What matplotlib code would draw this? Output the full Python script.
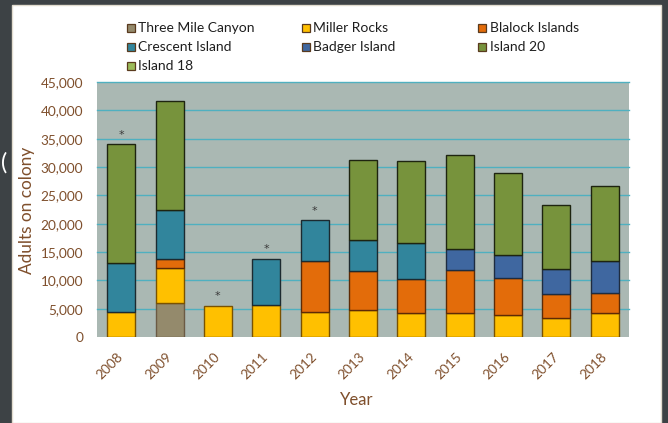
"""Stacked bar chart: adults on colony by year and colony site."""

import matplotlib

matplotlib.use("Agg")
import matplotlib.pyplot as plt
from matplotlib.patches import Rectangle
import numpy as np

plt.rcParams["font.family"] = ["Lato", "DejaVu Sans"]

# --- data --------------------------------------------------------------------
years = ["2008", "2009", "2010", "2011", "2012", "2013",
         "2014", "2015", "2016", "2017", "2018"]
three_mile_canyon = [0, 6000, 0, 0, 0, 0, 0, 0, 0, 0, 0]
miller_rocks = [4400, 6100, 5500, 5600, 4500, 4700, 4200, 4300, 3800, 3400, 4200]
blalock_islands = [0, 1600, 0, 0, 9000, 6900, 6000, 7500, 6550, 4150, 3500]
crescent_island = [8600, 8650, 0, 8200, 7100, 5600, 6350, 0, 0, 0, 0]
badger_island = [0, 0, 0, 0, 0, 0, 0, 3800, 4050, 4500, 5800]
island_20 = [21000, 19350, 0, 0, 0, 14100, 14500, 16600, 14600, 11250, 13200]
island_18 = [0, 0, 0, 0, 0, 0, 0, 0, 0, 0, 0]
flagged = [True, False, True, True, True, False, False, False, False, False, False]

series_names = ["Three Mile Canyon", "Miller Rocks", "Blalock Islands",
                "Crescent Island", "Badger Island", "Island 20", "Island 18"]
series_values = [three_mile_canyon, miller_rocks, blalock_islands,
                 crescent_island, badger_island, island_20, island_18]
y_ticks = [0, 5000, 10000, 15000, 20000, 25000, 30000, 35000, 40000, 45000]

# --- styling -----------------------------------------------------------------
FILL = ["#948a6c", "#ffc000", "#e36c0a", "#31859c", "#3f67a0", "#77933c", "#9bbb59"]
EDGE = ["#6b5a44", "#7a5200", "#5e2a05", "#1c2a30", "#1e2c40", "#1e2410", "#4a5a20"]
BROWN = "#7f4f2c"
SLIDE = "#3d4245"
PLOT_BG = "#aab8b3"
GRID = "#4fb0c0"

W, H = 668, 423
fig = plt.figure(figsize=(W / 100, H / 100), dpi=100, facecolor=SLIDE)


def fx(px):
    return px / W


def fy(py):
    return 1 - py / H


# white chart panel on the dark slide
fig.patches.append(Rectangle((fx(12), 0), fx(661 - 12), 1 - 5 / H,
                             transform=fig.transFigure, facecolor="white",
                             edgecolor="#e2dccf", lw=1.0, zorder=-5))
fig.text(fx(1), fy(163), "(", color="white", fontsize=17, ha="left", va="center")

ax = fig.add_axes([fx(97), 86 / H, fx(532), 255 / H])
ax.set_zorder(1)
ax.set_facecolor(PLOT_BG)
for s in ax.spines.values():
    s.set_visible(False)

x = np.arange(len(years))
for t in y_ticks[1:]:
    ax.axhline(t, color=GRID, lw=1.0, zorder=0.5, clip_on=False)

bottom = np.zeros(len(years))
for vals, fc, ec in zip(series_values, FILL, EDGE):
    v = np.array(vals, dtype=float)
    lw = np.where(v > 0, 1.0, 0.0)
    ax.bar(x, v, width=0.58, bottom=bottom, color=fc, edgecolor=ec,
           linewidth=lw, zorder=2)
    bottom += v

# asterisks over the flagged years
for i, flag in enumerate(flagged):
    if flag:
        ax.annotate("*", (x[i], bottom[i]), xytext=(0, 7),
                    textcoords="offset points", ha="center", va="center",
                    fontsize=8, color="#3a3a3a", family="DejaVu Sans")

ax.set_xlim(-0.5, len(years) - 0.5)
ax.set_ylim(0, 45000)
ax.set_yticks(y_ticks, [f"{t:,}" for t in y_ticks])
ax.set_xticks(x, years, rotation=45, ha="right", va="center",
              rotation_mode="anchor")
ax.tick_params(axis="y", length=0, pad=10, labelsize=9.8, labelcolor=BROWN)
ax.tick_params(axis="x", length=0, pad=13, labelsize=9.8, labelcolor=BROWN)

fig.text(fx(357), fy(400), "Year", ha="center", va="center",
         fontsize=12, color=BROWN)
fig.text(fx(27), fy(210), "Adults on colony", ha="center", va="center",
         rotation=90, fontsize=12.4, color=BROWN)

# legend, laid out row by row in three columns like the original
col_x = [127, 301.5, 478]
row_y = [28, 47, 66]
for k, (name, fc) in enumerate(zip(series_names, FILL)):
    cx, cy = col_x[k % 3], row_y[k // 3]
    fig.patches.append(Rectangle((fx(cx), fy(cy + 4)), fx(8), 8 / H,
                                 transform=fig.transFigure, facecolor=fc,
                                 edgecolor="#5a3a1e", lw=0.9, zorder=3))
    fig.text(fx(cx + 11.5), fy(cy), name, ha="left", va="center",
             fontsize=10, color="#1e1e1e")

fig.savefig("out.png", dpi=100, facecolor=SLIDE)
